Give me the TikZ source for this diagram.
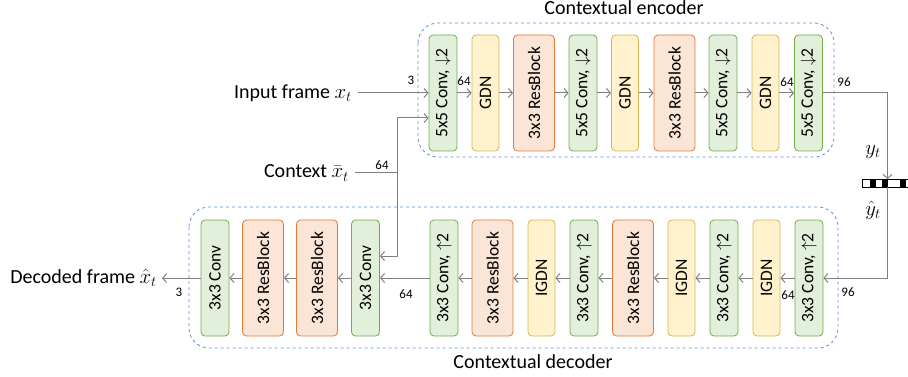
\documentclass[tikz,border=0pt]{standalone}
\usepackage{fontspec}
\setmainfont{Carlito}
\usepackage{graphicx}
\usetikzlibrary{arrows.meta}
\definecolor{gfill}{HTML}{E2EFDA}
\definecolor{gdraw}{HTML}{70AD47}
\definecolor{yfill}{HTML}{FFF2CC}
\definecolor{ydraw}{HTML}{D6B656}
\definecolor{ofill}{HTML}{FBE5D6}
\definecolor{odraw}{HTML}{E07B39}
\definecolor{bdash}{HTML}{5B8FE0}
\definecolor{arrc}{HTML}{808080}
\tikzset{
  blk/.style={draw, rounded corners=4pt, minimum height=116pt, inner sep=0pt, line width=0.8pt,
    font=\fontsize{17.5}{17.5}\selectfont},
  conv/.style={blk, fill=gfill, draw=gdraw, minimum width=28pt},
  gdn/.style={blk, fill=yfill, draw=ydraw, minimum width=27pt},
  res/.style={blk, fill=ofill, draw=odraw, minimum width=41pt},
  grp/.style={draw=bdash, dashed, rounded corners=20pt, line width=0.8pt},
  arr/.style={draw=arrc, line width=1pt, -{Straight Barb[length=4pt,width=9pt]}},
  ln/.style={draw=arrc, line width=1pt},
  lab/.style={font=\fontsize{13}{13}\selectfont, inner sep=0pt},
  big/.style={font=\fontsize{20}{20}\selectfont, inner sep=2pt},
}
\newcommand{\rt}[1]{\rotatebox{90}{#1}}
\begin{document}
\begin{tikzpicture}[x=1pt,y=-1pt]
\useasboundingbox (0,0) rectangle (908,377);
% groups
\draw[grp] (418,23) rectangle (834,157);
\draw[grp] (189,207) rectangle (838,348);
\node[big] (tenc) at (624,8) {Contextual encoder};
\node[big] (tdec) at (533,362) {Contextual decoder};
% encoder
\node[conv] (e1) at (443,93) {\rt{5x5 Conv, $\downarrow$2}};
\node[gdn]  (e2) at (485.5,93) {\rt{GDN}};
\node[res]  (e3) at (534,93) {\rt{3x3 ResBlock}};
\node[conv] (e4) at (583,93) {\rt{5x5 Conv, $\downarrow$2}};
\node[gdn]  (e5) at (625,93) {\rt{GDN}};
\node[res]  (e6) at (674.5,93) {\rt{3x3 ResBlock}};
\node[conv] (e7) at (723,93) {\rt{5x5 Conv, $\downarrow$2}};
\node[gdn]  (e8) at (765.5,93) {\rt{GDN}};
\node[conv] (e9) at (808.5,93) {\rt{5x5 Conv, $\downarrow$2}};
\foreach \a/\b in {e1/e2,e2/e3,e3/e4,e4/e5,e5/e6,e6/e7,e7/e8,e8/e9}
  \draw[arr] (\a.east) -- (\b.west);
% decoder
\node[conv] (d1) at (809,278) {\rt{3x3 Conv, $\uparrow$2}};
\node[gdn]  (d2) at (766.5,278) {\rt{IGDN}};
\node[conv] (d3) at (724,278) {\rt{3x3 Conv, $\uparrow$2}};
\node[gdn]  (d4) at (681.5,278) {\rt{IGDN}};
\node[res]  (d5) at (633,278) {\rt{3x3 ResBlock}};
\node[conv] (d6) at (584,278) {\rt{3x3 Conv, $\uparrow$2}};
\node[gdn]  (d7) at (541.5,278) {\rt{IGDN}};
\node[res]  (d8) at (492.5,278) {\rt{3x3 ResBlock}};
\node[conv] (d9) at (444,278) {\rt{3x3 Conv, $\uparrow$2}};
\node[conv] (d10) at (365.5,278) {\rt{3x3 Conv}};
\node[res]  (d11) at (317,278) {\rt{3x3 ResBlock}};
\node[res]  (d12) at (263,278) {\rt{3x3 ResBlock}};
\node[conv] (d13) at (215,278) {\rt{3x3 Conv}};
\foreach \a/\b in {d1/d2,d2/d3,d3/d4,d4/d5,d5/d6,d6/d7,d7/d8,d8/d9,d9/d10,d10/d11,d11/d12,d12/d13}
  \draw[arr] (\a.west) -- (\b.east);
% inputs / outputs
\node[big, anchor=east] (inp) at (354,93) {Input frame $x_t$};
\draw[arr] ([xshift=4pt]inp.east) -- (e1.west);
\node[big, anchor=east] (ctx) at (351,173) {Context $\bar{x}_t$};
\coordinate (j) at (397,173);
\draw[ln] ([xshift=4pt]ctx.east) -- (j);
\draw[arr] (j) |- ([yshift=-25pt]e1.west);
\draw[arr] (j) |- ([yshift=22pt]d10.east);
\node[big, anchor=east] (dec) at (159,278) {Decoded frame $\hat{x}_t$};
\draw[arr] (d13.west) -- ([xshift=3pt]dec.east);
% quantizer
\node[draw, line width=0.8pt, minimum width=46pt, minimum height=8pt, inner sep=0pt] (q) at (885,183) {};
\fill (870,179) rectangle (876,187);
\fill (882,179) rectangle (888,187);
\fill (900,179) rectangle (906,187);
\coordinate (qt) at (887.5,179);
\coordinate (qb) at (887.5,187);
\draw[arr] (e9.east) -| (qt);
\draw[arr] (qb) |- (d1.east);
\node[big] (yt) at (873,152) {$y_t$};
\node[big] (yh) at (873,210) {$\hat{y}_t$};
% channel labels
\node[lab] (l1) at (411,80) {3};
\node[lab] (l2) at (464,81) {64};
\node[lab] (l3) at (787,82) {64};
\node[lab] (l4) at (844,82) {96};
\node[lab] (l5) at (382,165) {64};
\node[lab] (l6) at (179,292) {3};
\node[lab] (l7) at (406,294) {64};
\node[lab] (l8) at (788,295) {64};
\node[lab] (l9) at (848,292) {96};
\end{tikzpicture}
\end{document}
